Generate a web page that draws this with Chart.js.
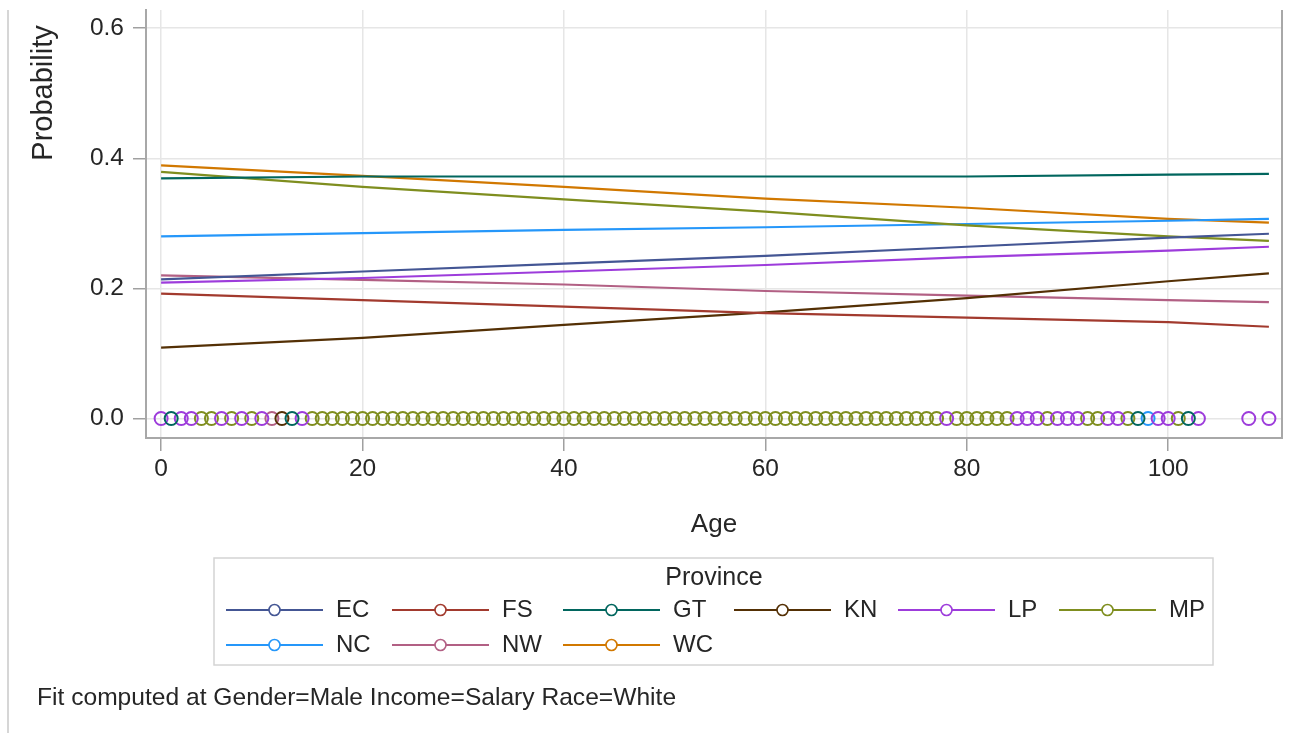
<!DOCTYPE html>
<html>
<head>
<meta charset="utf-8">
<script src="https://cdn.jsdelivr.net/npm/chart.js@4.4.1/dist/chart.umd.min.js"></script>
<style>
  html, body { margin: 0; padding: 0; background: #ffffff; overflow: hidden; }
  canvas { display: block; }
</style>
</head>
<body>
<canvas id="chart" width="1306" height="733" style="width:1306px;height:733px"></canvas>
<script>
// Predicted probability by age for each province
const provinces = ['EC', 'FS', 'GT', 'KN', 'LP', 'MP', 'NC', 'NW', 'WC'];
const fitAges = [0, 20, 40, 60, 80, 100, 110];

const probEC = [0.214, 0.226, 0.238, 0.250, 0.264, 0.278, 0.284];
const probFS = [0.192, 0.182, 0.172, 0.162, 0.155, 0.148, 0.141];
const probGT = [0.369, 0.372, 0.372, 0.372, 0.372, 0.375, 0.376];
const probKN = [0.109, 0.124, 0.144, 0.163, 0.185, 0.211, 0.223];
const probLP = [0.209, 0.216, 0.226, 0.236, 0.248, 0.258, 0.264];
const probMP = [0.379, 0.356, 0.337, 0.318, 0.297, 0.280, 0.273];
const probNC = [0.280, 0.285, 0.290, 0.294, 0.299, 0.304, 0.307];
const probNW = [0.220, 0.213, 0.206, 0.196, 0.189, 0.182, 0.179];
const probWC = [0.389, 0.373, 0.356, 0.338, 0.324, 0.307, 0.301];

// Observed ages (plotted at probability 0) per province
const obsEC = [];
const obsFS = [];
const obsGT = [1, 13, 97, 102];
const obsKN = [12];
const obsLP = [0, 2, 3, 6, 8, 10, 14, 78, 85, 86, 87, 89, 90, 91, 94, 95, 99, 100, 103, 108, 110];
const obsMP = [4, 5, 7, 9, 15, 16, 17, 18, 19, 20, 21, 22, 23, 24, 25, 26, 27, 28, 29, 30,
               31, 32, 33, 34, 35, 36, 37, 38, 39, 40, 41, 42, 43, 44, 45, 46, 47, 48, 49, 50,
               51, 52, 53, 54, 55, 56, 57, 58, 59, 60, 61, 62, 63, 64, 65, 66, 67, 68, 69, 70,
               71, 72, 73, 74, 75, 76, 77, 79, 80, 81, 82, 83, 84, 88, 92, 93, 96, 101];
const obsNC = [98];
const obsNW = [11];
const obsWC = [];

const xTicks = [0, 20, 40, 60, 80, 100];
const yTicks = [0.0, 0.2, 0.4, 0.6];

const colors = {
  EC: '#445694', FS: '#A23A2E', GT: '#01665E', KN: '#543005', LP: '#9D3CDB',
  MP: '#7F8E1F', NC: '#2597FA', NW: '#B26084', WC: '#D17800'
};
const probs = { EC: probEC, FS: probFS, GT: probGT, KN: probKN, LP: probLP, MP: probMP, NC: probNC, NW: probNW, WC: probWC };
const obs = { EC: obsEC, FS: obsFS, GT: obsGT, KN: obsKN, LP: obsLP, MP: obsMP, NC: obsNC, NW: obsNW, WC: obsWC };

const FONT = "'Liberation Sans', Arial, sans-serif";
const TEXT = '#262626';

const datasets = [];
provinces.forEach(p => {
  datasets.push({
    label: p,
    data: fitAges.map((a, i) => ({ x: a, y: probs[p][i] })),
    borderColor: colors[p],
    borderWidth: 2.2,
    pointRadius: 0,
    fill: false,
    tension: 0
  });
});
provinces.forEach(p => {
  datasets.push({
    label: p + ' obs',
    data: obs[p].map(a => ({ x: a, y: 0 })),
    showLine: false,
    pointStyle: 'circle',
    pointRadius: 6.5,
    pointBorderWidth: 2,
    pointBorderColor: colors[p],
    pointBackgroundColor: 'rgba(0,0,0,0)',
    borderColor: colors[p]
  });
});

// Frame, titles, legend and footnote
const decorations = {
  id: 'decorations',
  afterDraw(chart) {
    const ctx = chart.ctx;
    const area = chart.chartArea;
    ctx.save();

    // outer left rule
    ctx.strokeStyle = '#c8c8c8';
    ctx.lineWidth = 1.5;
    ctx.beginPath();
    ctx.moveTo(8, 10);
    ctx.lineTo(8, 733);
    ctx.stroke();

    // right frame of the plot area
    ctx.strokeStyle = '#a8a8a8';
    ctx.lineWidth = 2;
    ctx.beginPath();
    ctx.moveTo(area.right, area.top);
    ctx.lineTo(area.right, area.bottom + 1);
    ctx.stroke();

    // axis titles
    ctx.fillStyle = TEXT;
    ctx.textAlign = 'center';
    ctx.textBaseline = 'middle';
    ctx.font = '26px ' + FONT;
    ctx.fillText('Age', (area.left + area.right) / 2, 525);
    ctx.save();
    ctx.translate(44, 93);
    ctx.rotate(-Math.PI / 2);
    ctx.font = '29px ' + FONT;
    ctx.fillText('Probability', 0, 0);
    ctx.restore();

    // legend box
    ctx.strokeStyle = '#d4d4d4';
    ctx.lineWidth = 1.5;
    ctx.strokeRect(214, 558, 999, 107);
    ctx.fillStyle = TEXT;
    ctx.font = '25px ' + FONT;
    ctx.textAlign = 'center';
    ctx.fillText('Province', 714, 578);

    const colX = [226, 392, 563, 734, 898, 1059];
    const rowY = [610, 645];
    provinces.forEach((p, i) => {
      const x0 = colX[i % 6];
      const y = rowY[Math.floor(i / 6)];
      ctx.strokeStyle = colors[p];
      ctx.lineWidth = 2;
      ctx.beginPath();
      ctx.moveTo(x0, y);
      ctx.lineTo(x0 + 97, y);
      ctx.stroke();
      ctx.beginPath();
      ctx.arc(x0 + 48.5, y, 5.5, 0, Math.PI * 2);
      ctx.fillStyle = '#ffffff';
      ctx.fill();
      ctx.lineWidth = 1.6;
      ctx.stroke();
      ctx.fillStyle = TEXT;
      ctx.textAlign = 'left';
      ctx.font = '24px ' + FONT;
      ctx.fillText(p, x0 + 110, y);
    });

    // footnote
    ctx.textAlign = 'left';
    ctx.font = '24.6px ' + FONT;
    ctx.fillStyle = TEXT;
    ctx.fillText('Fit computed at Gender=Male Income=Salary Race=White', 37, 698);

    ctx.restore();
  }
};

new Chart(document.getElementById('chart'), {
  type: 'line',
  data: { datasets },
  plugins: [decorations],
  options: {
    responsive: false,
    animation: false,
    devicePixelRatio: 1,
    layout: { padding: { top: 10, right: 24, left: 0, bottom: 255 } },
    plugins: {
      legend: { display: false },
      tooltip: { enabled: false }
    },
    scales: {
      x: {
        type: 'linear',
        min: -1.5,
        max: 111.3,
        afterFit(scale) {
          scale.height = 40;
          scale.paddingLeft = 0;
          scale.paddingRight = 0;
        },
        afterBuildTicks(scale) { scale.ticks = xTicks.map(v => ({ value: v })); },
        grid: { color: '#e6e6e6', lineWidth: 1.5, tickLength: 13, tickColor: '#a0a0a0', tickWidth: 1.5 },
        border: { color: '#a8a8a8', width: 2 },
        ticks: { color: TEXT, font: { family: FONT, size: 24.5 }, padding: 4, maxRotation: 0 }
      },
      y: {
        type: 'linear',
        min: -0.03,
        max: 0.628,
        afterFit(scale) {
          scale.width = 146;
          scale.paddingTop = 0;
          scale.paddingBottom = 0;
        },
        afterBuildTicks(scale) { scale.ticks = yTicks.map(v => ({ value: v })); },
        grid: { color: '#e6e6e6', lineWidth: 1.5, tickLength: 13, tickColor: '#a0a0a0', tickWidth: 1.5 },
        border: { color: '#a8a8a8', width: 2 },
        ticks: { color: TEXT, font: { family: FONT, size: 24.5 }, padding: 9,
                 callback: v => v.toFixed(1) }
      }
    }
  }
});
</script>
</body>
</html>
